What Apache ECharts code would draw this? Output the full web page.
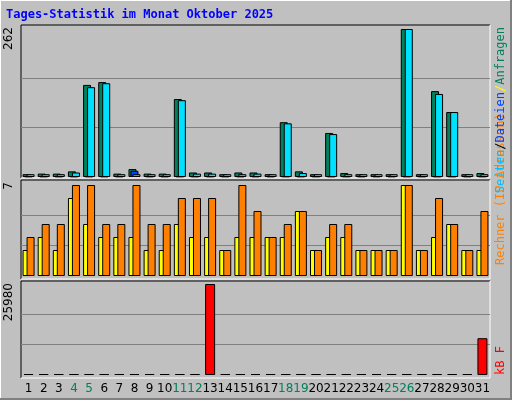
<!DOCTYPE html>
<html><head><meta charset="utf-8">
<script src="https://cdn.jsdelivr.net/npm/echarts@6/dist/echarts.min.js"></script>
<style>html,body{margin:0;padding:0;background:#c0c0c0}#c{width:512px;height:400px}</style>
</head><body><div id="c"></div>
<script>
const days = ['1','2','3','4','5','6','7','8','9','10','11','12','13','14','15','16','17','18','19','20','21','22','23','24','25','26','27','28','29','30','31'];
const weekend = ['4','5','11','12','18','19','25','26'];
const hits  = [5,6,6,10,163,168,6,14,6,6,138,8,8,5,8,8,5,97,10,5,78,7,5,5,5,262,5,152,115,5,7];
const pages = [1,1,1,1,1,1,1,11,1,1,1,1,1,1,1,1,1,1,1,1,1,1,1,1,1,1,1,1,1,1,1];
const files = [5,5,5,8,159,166,5,5,5,5,136,6,6,5,5,6,5,95,7,5,76,5,5,5,5,262,5,147,115,5,5];
const visits = [2,3,2,6,4,3,3,3,2,2,4,3,3,2,3,3,3,3,5,2,3,3,2,2,2,7,2,3,4,2,2];
const sites  = [3,4,4,7,7,4,4,7,4,4,6,6,6,2,7,5,3,4,5,2,4,4,2,2,2,7,2,6,4,2,5];
const kbytes = [0,0,0,0,0,0,0,0,0,0,0,0,25980,0,0,0,0,0,0,0,0,0,0,0,0,0,0,0,0,0,10500];
const maxTop = 262, maxMid = 7, maxKB = 25980;

const ch = echarts.init(document.getElementById('c'));
const L = 21, R = 22;
const bs = {borderColor:'#000', borderWidth:1};
const split = {show:true, lineStyle:{color:['transparent','#808080','#808080','transparent'], width:1}};
function yax(i, m){ return {gridIndex:i, min:0, max:m, interval:m/3, axisLabel:{show:false}, axisLine:{show:false}, axisTick:{show:false}, splitLine:split}; }
function xax(i, lab){ return {gridIndex:i, type:'category', data:days, axisLine:{show:false}, axisTick:{show:false},
  axisLabel: lab ? {show:true, margin:8, fontFamily:'DejaVu Sans', fontSize:12, interval:0,
    formatter:v=>weekend.includes(v)?'{g|'+v+'}':'{k|'+v+'}', rich:{g:{color:'#00805c',fontSize:12,fontFamily:'DejaVu Sans'},k:{color:'#000',fontSize:12,fontFamily:'DejaVu Sans'}}} : {show:false}}; }
function panel(y,h){ return [
  {type:'rect', z:-10, shape:{x:L,y:y,width:512-L-R,height:h}, style:{fill:'#c0c0c0',stroke:null}},
  {type:'polyline', z:-5, shape:{points:[[L,y+h],[L,y],[490,y]]}, style:{stroke:'#000',lineWidth:1,fill:null}},
  {type:'polyline', z:-5, shape:{points:[[490,y],[490,y+h],[L,y+h]]}, style:{stroke:'#fff',lineWidth:1,fill:null}}
];}
const mono = 'DejaVu Sans Mono';
ch.setOption({
  animation:false,
  backgroundColor:'#c0c0c0',
  grid:[
    {left:L,right:R,top:29,height:148},
    {left:L,right:R,top:185,height:91},
    {left:L,right:R,top:284,height:91}
  ],
  xAxis:[xax(0,false),xax(1,false),xax(2,true)],
  yAxis:[yax(0,maxTop),yax(1,maxMid),yax(2,maxKB)],
  series:[
    {type:'bar',xAxisIndex:0,yAxisIndex:0,data:hits,barWidth:8,barGap:'-75%',itemStyle:Object.assign({color:'#00805c'},bs)},
    {type:'bar',xAxisIndex:0,yAxisIndex:0,data:pages,barWidth:8,barGap:'-75%',itemStyle:Object.assign({color:'#0040ff'},bs)},
    {type:'bar',xAxisIndex:0,yAxisIndex:0,data:files,barWidth:8,barGap:'-75%',itemStyle:Object.assign({color:'#00e0ff'},bs)},
    {type:'bar',xAxisIndex:1,yAxisIndex:1,data:visits,barWidth:8,barGap:'-50%',itemStyle:Object.assign({color:'#ffff00'},bs)},
    {type:'bar',xAxisIndex:1,yAxisIndex:1,data:sites,barWidth:8,barGap:'-50%',itemStyle:Object.assign({color:'#ff8000'},bs)},
    {type:'bar',xAxisIndex:2,yAxisIndex:2,data:kbytes,barWidth:10,barMinHeight:1,itemStyle:Object.assign({color:'#ff0000'},bs)}
  ],
  graphic:[
    {type:'polyline', z:-20, shape:{points:[[0,399],[0,0],[511,0]]}, style:{stroke:'#fff',lineWidth:2,fill:null}},
    {type:'polyline', z:-20, shape:{points:[[511,0],[511,399],[0,399]]}, style:{stroke:'#808080',lineWidth:2,fill:null}},
    ...panel(25,153), ...panel(180,99), ...panel(281,97),
    {type:'text', x:6, y:9, style:{text:'Tages-Statistik im Monat Oktober 2025', fill:'#0000ff', font:'bold 12px "DejaVu Sans Mono"'}},
    {type:'text', x:9, y:27, rotation:Math.PI/2, style:{text:String(maxTop), fill:'#000', font:'12px "DejaVu Sans"', align:'right', verticalAlign:'middle'}},
    {type:'text', x:9, y:182, rotation:Math.PI/2, style:{text:String(maxMid), fill:'#000', font:'12px "DejaVu Sans"', align:'right', verticalAlign:'middle'}},
    {type:'text', x:9, y:283, rotation:Math.PI/2, style:{text:String(maxKB), fill:'#000', font:'12px "DejaVu Sans"', align:'right', verticalAlign:'middle'}},
    {type:'text', x:501, y:265, rotation:Math.PI/2, style:{text:'Rechner (IP-Adressen)', fill:'#ff8000', font:'12px "DejaVu Sans Mono"', align:'left', verticalAlign:'middle'}},
    {type:'text', x:501, y:27, rotation:Math.PI/2, style:{text:'{c|Seiten}{k|/}{b|Dateien}{y|/}{g|Anfragen}', font:'12px "DejaVu Sans Mono"', align:'right', verticalAlign:'middle',
      rich:{c:{fill:'#00c0ff',font:'12px "DejaVu Sans Mono"'},b:{fill:'#0040ff',font:'12px "DejaVu Sans Mono"'},g:{fill:'#00805c',font:'12px "DejaVu Sans Mono"'},k:{fill:'#000',font:'12px "DejaVu Sans Mono"'},y:{fill:'#ffff00',font:'12px "DejaVu Sans Mono"'}}}},
    {type:'text', x:501, y:375, rotation:Math.PI/2, style:{text:'kB F', fill:'#ff0000', font:'12px "DejaVu Sans Mono"', align:'left', verticalAlign:'middle'}}
  ]
});
</script></body></html>
